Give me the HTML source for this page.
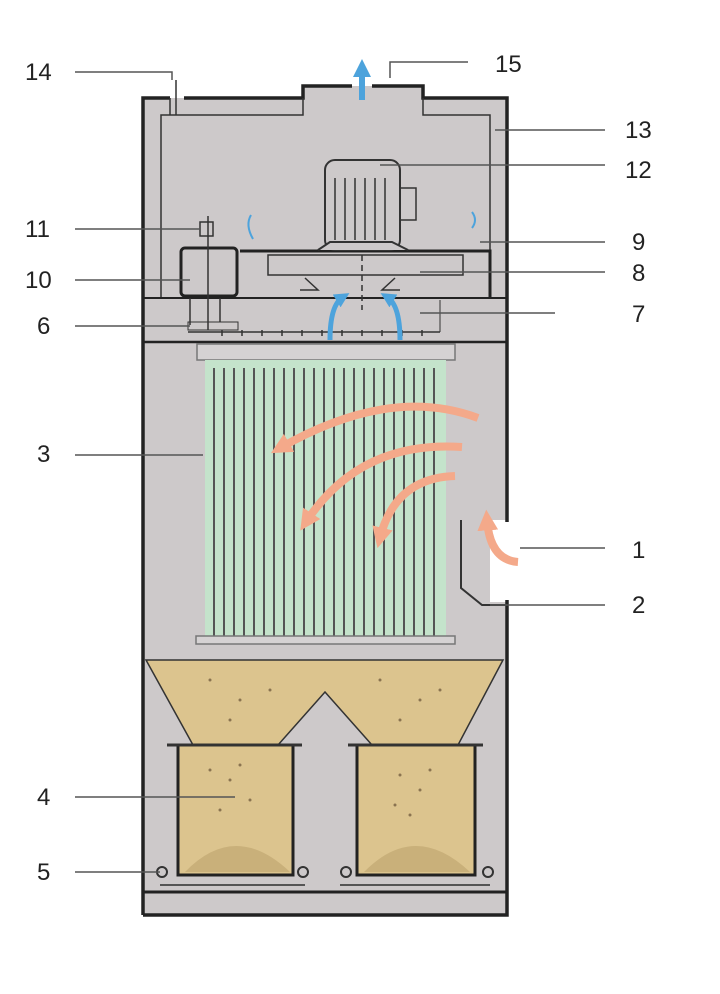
<!DOCTYPE html>
<html><head><style>
html,body{margin:0;padding:0;background:#fff;}
svg{display:block;}
text{font-family:"Liberation Sans",sans-serif;font-size:24px;fill:#222;}
</style></head><body>
<svg width="720" height="994" viewBox="0 0 720 994" xmlns="http://www.w3.org/2000/svg">
<defs>
<marker id="ar" markerWidth="2.6" markerHeight="2.6" refX="1.3" refY="1.3" orient="auto" markerUnits="strokeWidth"><path d="M0,0 L2.6,1.3 L0,2.6 Z" fill="#f4a98a"/></marker>
<marker id="ab" markerWidth="3" markerHeight="3" refX="1.5" refY="1.5" orient="auto" markerUnits="strokeWidth"><path d="M0,0 L3,1.5 L0,3 Z" fill="#4da3dc"/></marker>
</defs>
<!-- housing -->
<rect x="143" y="98" width="364" height="817" fill="#cdc9ca"/>
<rect x="303" y="86" width="120" height="14" fill="#cdc9ca"/>
<rect x="490" y="520" width="20" height="82" fill="#fff"/>
<path d="M143,915 V98 H170 M184,98 H303 V86 H352 M372,86 H423 V98 H507 V522 M507,600 V915 H143" fill="none" stroke="#222" stroke-width="3.5"/>
<path d="M161,298 V115 H303 V98 M423,98 V115 H490 V298" fill="none" stroke="#333" stroke-width="1.5"/>
<path d="M170,98 V115 M176,80 V115" stroke="#333" stroke-width="1.5"/>
<line x1="143" y1="298" x2="507" y2="298" stroke="#222" stroke-width="2"/>
<line x1="143" y1="342" x2="507" y2="342" stroke="#222" stroke-width="2.5"/>
<!-- fan housing -->
<path d="M240,251 H490 V298" fill="none" stroke="#222" stroke-width="3"/>
<rect x="268" y="255" width="195" height="20" fill="none" stroke="#333" stroke-width="1.5"/>
<path d="M305,278 L318,290 H300 M395,278 L382,290 H400" fill="none" stroke="#333" stroke-width="1.5"/>
<line x1="362" y1="255" x2="362" y2="310" stroke="#333" stroke-width="1.5" stroke-dasharray="6,4"/>
<!-- motor -->
<rect x="325" y="160" width="75" height="90" rx="10" fill="#cdc9ca" stroke="#333" stroke-width="2"/>
<path d="M335,178 V240 M345,178 V240 M355,178 V240 M365,178 V240 M375,178 V240 M385,178 V240" stroke="#333" stroke-width="1.5"/>
<rect x="400" y="188" width="16" height="32" fill="none" stroke="#333" stroke-width="1.5"/>
<path d="M318,250 L330,242 H392 L408,250" fill="#cdc9ca" stroke="#333" stroke-width="2"/>
<!-- left actuator -->
<rect x="181" y="248" width="56" height="48" rx="4" fill="#cdc9ca" stroke="#222" stroke-width="3"/>
<rect x="200" y="222" width="13" height="14" fill="none" stroke="#333" stroke-width="1.5"/>
<line x1="208" y1="216" x2="208" y2="330" stroke="#333" stroke-width="1.5"/>
<line x1="190" y1="298" x2="190" y2="325" stroke="#333" stroke-width="1.5"/>
<line x1="220" y1="298" x2="220" y2="322" stroke="#333" stroke-width="1.5"/>
<rect x="188" y="322" width="50" height="8" fill="none" stroke="#333" stroke-width="1"/>
<line x1="188" y1="332" x2="440" y2="332" stroke="#333" stroke-width="1.5"/>
<line x1="440" y1="300" x2="440" y2="332" stroke="#333" stroke-width="1"/>
<path d="M222,330 v6 M242,330 v6 M262,330 v6 M282,330 v6 M302,330 v6 M322,330 v6 M342,330 v6 M362,330 v6 M382,330 v6 M402,330 v6 M422,330 v6" stroke="#333" stroke-width="1.5"/>
<!-- blue arrows -->
<path d="M362,100 V68" stroke="#4da3dc" stroke-width="6" marker-end="url(#ab)"/>
<path d="M330,340 Q330,305 343,297" fill="none" stroke="#4da3dc" stroke-width="5" marker-end="url(#ab)"/>
<path d="M400,340 Q400,305 387,297" fill="none" stroke="#4da3dc" stroke-width="5" marker-end="url(#ab)"/>
<path d="M251,215 q-6,10 2,24" fill="none" stroke="#4da3dc" stroke-width="2"/>
<path d="M472,212 q6,8 0,16" fill="none" stroke="#4da3dc" stroke-width="2"/>
<!-- filter -->
<rect x="197" y="344" width="258" height="16" fill="#d5d2d3" stroke="#777" stroke-width="1.5"/>
<rect x="205" y="360" width="241" height="276" fill="#c4e3cb"/>
<g stroke="#555" stroke-width="2">
<path d="M214,368V636M224,368V636M234,368V636M244,368V636M254,368V636M264,368V636M274,368V636M284,368V636M294,368V636M304,368V636M314,368V636M324,368V636M334,368V636M344,368V636M354,368V636M364,368V636M374,368V636M384,368V636M394,368V636M404,368V636M414,368V636M424,368V636M434,368V636"/>
</g>
<rect x="196" y="636" width="259" height="8" fill="#d5d2d3" stroke="#777" stroke-width="1.5"/>
<!-- orange arrows -->
<g fill="none" stroke="#f4a98a" stroke-width="8">
<path d="M478,418 Q390,385 280,448" marker-end="url(#ar)"/>
<path d="M462,447 Q360,440 306,522" marker-end="url(#ar)"/>
<path d="M455,476 Q395,478 380,538" marker-end="url(#ar)"/>
<path d="M518,562 Q490,560 487,520" marker-end="url(#ar)"/>
</g>
<path d="M461,520 V588 L482,605 H507" fill="none" stroke="#333" stroke-width="2"/>
<!-- hopper -->
<path d="M146,660 H503 L458,745 H372 L325,692 L278,745 H193 Z" fill="#dcc48e" stroke="#333" stroke-width="1.5"/>
<rect x="178" y="745" width="115" height="130" fill="#dcc48e" stroke="#222" stroke-width="3"/>
<rect x="357" y="745" width="118" height="130" fill="#dcc48e" stroke="#222" stroke-width="3"/>
<path d="M167,745 H302 M348,745 H483" stroke="#333" stroke-width="3"/>
<path d="M185,872 Q235,820 290,872 Z M364,872 Q415,820 470,872 Z" fill="#c9b07a"/>
<g fill="#8a7350">
<circle cx="210" cy="770" r="1.5"/><circle cx="230" cy="780" r="1.5"/><circle cx="250" cy="800" r="1.5"/><circle cx="220" cy="810" r="1.5"/><circle cx="240" cy="765" r="1.5"/>
<circle cx="400" cy="775" r="1.5"/><circle cx="420" cy="790" r="1.5"/><circle cx="395" cy="805" r="1.5"/><circle cx="430" cy="770" r="1.5"/><circle cx="410" cy="815" r="1.5"/>
<circle cx="210" cy="680" r="1.5"/><circle cx="240" cy="700" r="1.5"/><circle cx="270" cy="690" r="1.5"/><circle cx="230" cy="720" r="1.5"/>
<circle cx="380" cy="680" r="1.5"/><circle cx="420" cy="700" r="1.5"/><circle cx="440" cy="690" r="1.5"/><circle cx="400" cy="720" r="1.5"/>
</g>
<path d="M160,885 H305 M340,885 H490" stroke="#555" stroke-width="2"/>
<circle cx="162" cy="872" r="5" fill="none" stroke="#333" stroke-width="2"/><circle cx="303" cy="872" r="5" fill="none" stroke="#333" stroke-width="2"/>
<circle cx="346" cy="872" r="5" fill="none" stroke="#333" stroke-width="2"/><circle cx="488" cy="872" r="5" fill="none" stroke="#333" stroke-width="2"/>
<line x1="143" y1="892" x2="507" y2="892" stroke="#222" stroke-width="3"/>
<!-- leader lines -->
<g stroke="#555" stroke-width="1.5" fill="none">
<path d="M75,72 H172 V80"/>
<path d="M390,78 V62 H468"/>
<path d="M495,130 H605"/>
<path d="M380,165 H605"/>
<path d="M480,242 H605"/>
<path d="M420,272 H605"/>
<path d="M420,313 H555"/>
<path d="M75,229 H200"/>
<path d="M75,280 H190"/>
<path d="M75,326 H190"/>
<path d="M75,455 H203"/>
<path d="M75,797 H235"/>
<path d="M75,872 H160"/>
<path d="M520,548 H605"/>
<path d="M490,605 H605"/>
</g>
<text x="25" y="80">14</text>
<text x="25" y="237">11</text>
<text x="25" y="288">10</text>
<text x="37" y="334">6</text>
<text x="37" y="462">3</text>
<text x="37" y="805">4</text>
<text x="37" y="880">5</text>
<text x="495" y="72">15</text>
<text x="625" y="138">13</text>
<text x="625" y="178">12</text>
<text x="632" y="250">9</text>
<text x="632" y="281">8</text>
<text x="632" y="322">7</text>
<text x="632" y="558">1</text>
<text x="632" y="613">2</text>
</svg>
</body></html>
